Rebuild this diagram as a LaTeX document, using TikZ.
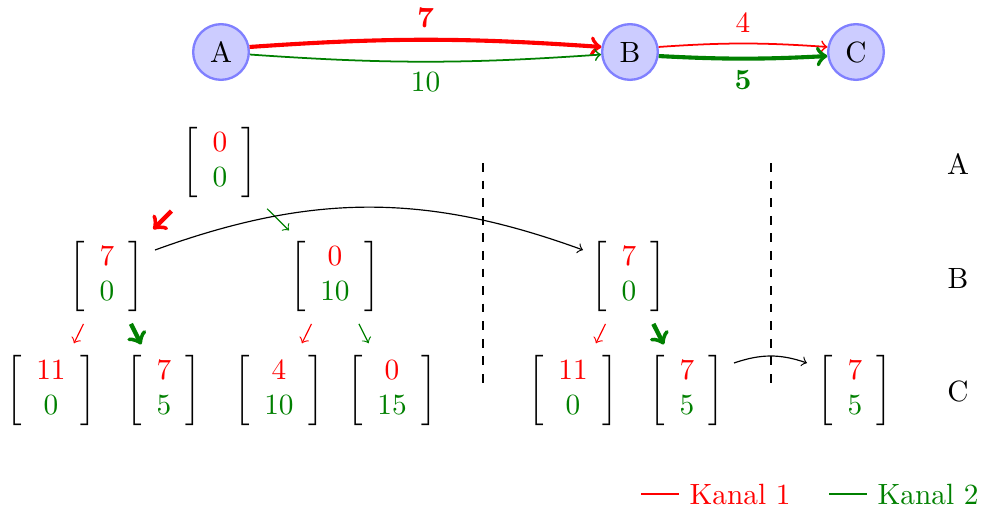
\documentclass[tikz,border=0pt]{standalone}
\usetikzlibrary{calc}
\definecolor{kgreen}{RGB}{0,128,0}
\newcommand{\mv}[2]{$\left[\begin{array}{c}\color{red}#1\\\color{kgreen}#2\end{array}\right]$}
\begin{document}
\begin{tikzpicture}[x=0.012cm,y=-0.012cm,
  st/.style={circle,draw=blue!50,fill=blue!20,thick,minimum size=19pt,inner sep=0pt},
  vec/.style={inner sep=0pt},
  thinred/.style={red,semithick,->},
  boldred/.style={red,line width=1.4pt,->},
  thingreen/.style={kgreen,semithick,->},
  boldgreen/.style={kgreen,line width=1.4pt,->},
  smallred/.style={red,->},
  smallgreen/.style={kgreen,->},
  bigred/.style={red,line width=1.5pt,->},
  biggreen/.style={kgreen,line width=1.5pt,->},
  sep/.style={dashed},
  jump/.style={->}]
\useasboundingbox (0,0) rectangle (981,508);
% graph
\node[st] (A) at (221,52) {A};
\node[st] (B) at (630,52) {B};
\node[st] (C) at (856,52) {C};
\draw[boldred] (A.10) to[bend left=4] node[above]{$\mathbf{7}$} (B.170);
\draw[thingreen] (A.-5) to[bend right=4] node[below]{$10$} (B.185);
\draw[thinred] (B.10) to[bend left=4] node[above]{$4$} (C.170);
\draw[boldgreen] (B.-8) to[bend right=3] node[below]{$\mathbf{5}$} (C.188);
% tree
\node[vec] (t)  at (220,162) {\mv{0}{0}};
\node[vec] (b1) at (107,276) {\mv{7}{0}};
\node[vec] (b2) at (335,276) {\mv{0}{10}};
\node[vec] (b3) at (629,276) {\mv{7}{0}};
\node[vec] (c1) at (51,390)  {\mv{11}{0}};
\node[vec] (c2) at (164,390) {\mv{7}{5}};
\node[vec] (c3) at (279,390) {\mv{4}{10}};
\node[vec] (c4) at (392,390) {\mv{0}{15}};
\node[vec] (c5) at (573,390) {\mv{11}{0}};
\node[vec] (c6) at (687,390) {\mv{7}{5}};
\node[vec] (c7) at (855,390) {\mv{7}{5}};
\draw[bigred] ($(t)!0.43!(b1)$) -- ($(t)!0.59!(b1)$);
\draw[smallgreen] ($(t)!0.41!(b2)$) -- ($(t)!0.6!(b2)$);
\draw[smallred] ($(b1)!0.42!(c1)$) -- ($(b1)!0.59!(c1)$);
\draw[biggreen] ($(b1)!0.42!(c2)$) -- ($(b1)!0.6!(c2)$);
\draw[smallred] ($(b2)!0.42!(c3)$) -- ($(b2)!0.59!(c3)$);
\draw[smallgreen] ($(b2)!0.42!(c4)$) -- ($(b2)!0.59!(c4)$);
\draw[smallred] ($(b3)!0.42!(c5)$) -- ($(b3)!0.59!(c5)$);
\draw[biggreen] ($(b3)!0.42!(c6)$) -- ($(b3)!0.6!(c6)$);
\draw[jump] ($(b1)+(48,-26)$) to[bend left=20] ($(b3)+(-46,-26)$);
\draw[jump] ($(c6)+(47,-27)$) to[bend left=19] ($(c7)+(-48,-27)$);
% separators
\coordinate (s1a) at (483,163); \coordinate (s1b) at (483,390);
\coordinate (s2a) at (771,163); \coordinate (s2b) at (771,390);
\draw[sep] (s1a) -- (s1b);
\draw[sep] (s2a) -- (s2b);
% row labels
\node (la) at (958,164) {A};
\node (lb) at (958,278) {B};
\node (lc) at (958,391) {C};
% legend
\coordinate (k1a) at (641,494); \coordinate (k1b) at (679,494);
\coordinate (k2a) at (829,494); \coordinate (k2b) at (867,494);
\draw[red,semithick] (k1a) -- (k1b) node[right,text=red] (k1) {Kanal 1};
\draw[kgreen,semithick] (k2a) -- (k2b) node[right,text=kgreen] (k2) {Kanal 2};
\end{tikzpicture}
\end{document}
